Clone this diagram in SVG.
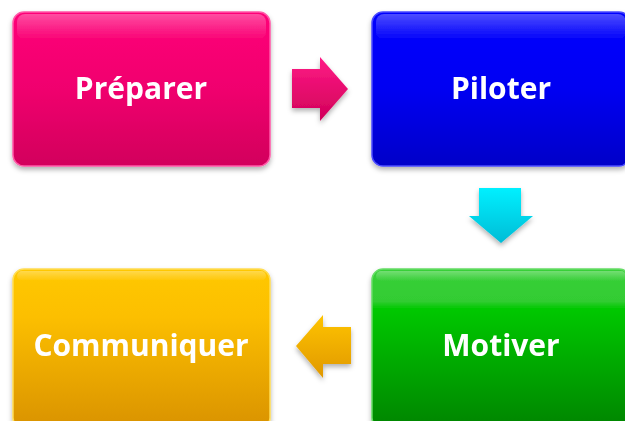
<svg xmlns="http://www.w3.org/2000/svg" width="625" height="421" viewBox="0 0 625 421">
<style>
.lbl{font-family:"Open Sans","Liberation Sans",sans-serif;font-weight:bold;font-size:30px;fill:#ffffff;text-anchor:middle}
.box{stroke-width:1.5}
.gloss{fill:url(#gloss)}
</style>
<defs>
<linearGradient id="gPink" x1="0" y1="0" x2="0" y2="1"><stop offset="0" stop-color="#ff0078"/><stop offset="0.5" stop-color="#f0006e"/><stop offset="1" stop-color="#d2005c"/></linearGradient>
<linearGradient id="gBlue" x1="0" y1="0" x2="0" y2="1"><stop offset="0" stop-color="#0000ff"/><stop offset="0.5" stop-color="#0000f2"/><stop offset="1" stop-color="#0000c8"/></linearGradient>
<linearGradient id="gGreen" x1="0" y1="0" x2="0" y2="1"><stop offset="0" stop-color="#38d038"/><stop offset="0.2" stop-color="#33cc33"/><stop offset="0.25" stop-color="#00c800"/><stop offset="1" stop-color="#008400"/></linearGradient>
<linearGradient id="gOrange" x1="0" y1="0" x2="0" y2="1"><stop offset="0" stop-color="#ffc800"/><stop offset="0.3" stop-color="#fcbf00"/><stop offset="1" stop-color="#d99200"/></linearGradient>
<linearGradient id="gloss" x1="0" y1="0" x2="0" y2="1"><stop offset="0" stop-color="#ffffff" stop-opacity="0.3"/><stop offset="1" stop-color="#ffffff" stop-opacity="0"/></linearGradient>
<linearGradient id="aPink" x1="0" y1="0" x2="0" y2="1"><stop offset="0" stop-color="#ff1a86"/><stop offset="1" stop-color="#d00058"/></linearGradient>
<linearGradient id="aCyan" x1="0" y1="0" x2="0" y2="1"><stop offset="0" stop-color="#00f0ff"/><stop offset="1" stop-color="#00bcd6"/></linearGradient>
<linearGradient id="aOrange" x1="0" y1="0" x2="0" y2="1"><stop offset="0" stop-color="#ffc400"/><stop offset="1" stop-color="#e09800"/></linearGradient>
<filter id="sh" x="-10%" y="-10%" width="120%" height="125%"><feDropShadow dx="0" dy="3" stdDeviation="2.5" flood-color="#000" flood-opacity="0.3"/></filter>
</defs>
<g id="preparer" filter="url(#sh)">
<rect class="box" x="13" y="12" width="257" height="154" rx="11" fill="url(#gPink)" stroke="#ff5aa8"/>
<rect class="gloss" x="17" y="14" width="249" height="26" rx="8"/>
<text class="lbl" x="141" y="99">Préparer</text>
</g>
<g id="piloter" filter="url(#sh)">
<rect class="box" x="372" y="12" width="258" height="154" rx="11" fill="url(#gBlue)" stroke="#4a4aff"/>
<rect class="gloss" x="376" y="14" width="250" height="26" rx="8"/>
<text class="lbl" x="501" y="99">Piloter</text>
</g>
<g id="motiver" filter="url(#sh)">
<rect class="box" x="372" y="269" width="258" height="160" rx="11" fill="url(#gGreen)" stroke="#66dd66"/>
<rect class="gloss" x="376" y="271" width="250" height="10" rx="5"/>
<text class="lbl" x="501" y="356">Motiver</text>
</g>
<g id="communiquer" filter="url(#sh)">
<rect class="box" x="13" y="269" width="257" height="160" rx="11" fill="url(#gOrange)" stroke="#ffdd55"/>
<rect class="gloss" x="17" y="271" width="249" height="10" rx="5"/>
<text class="lbl" x="141" y="356">Communiquer</text>
</g>
<g id="connectors" filter="url(#sh)">
<path d="M292,69 H320 V57 L348,89 L320,121 V108 H292 Z" fill="url(#aPink)"/>
<path d="M479,188 H521 V216 H533 L501,243 L469,216 H479 Z" fill="url(#aCyan)"/>
<path d="M351,327 H323 V315 L296,346 L323,378 V364 H351 Z" fill="url(#aOrange)"/>
</g>
</svg>
